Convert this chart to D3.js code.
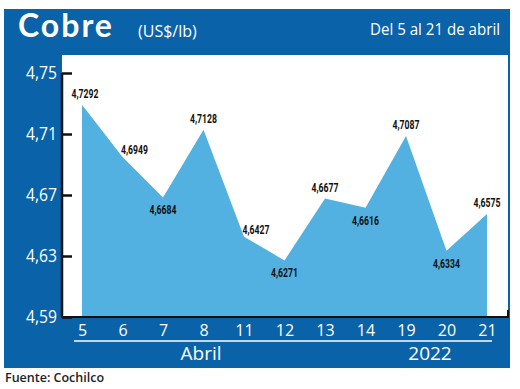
<!DOCTYPE html>
<html><head><meta charset="utf-8">
<script src="https://cdn.jsdelivr.net/npm/d3@7"></script>
<style>body{margin:0;background:#fff}svg{display:block}</style>
</head><body>
<svg id="c" width="520" height="389"></svg>
<script>
const days = ["5","6","7","8","11","12","13","14","19","20","21"];
const values = [4.7292,4.6949,4.6684,4.7128,4.6427,4.6271,4.6677,4.6616,4.7087,4.6334,4.6575];
const labelPlace = ["up","upright","down","up","upright","down","up","down","up","down","up"];
const yTicks = [4.59,4.63,4.67,4.71,4.75];
const title = "Cobre", unit = "(US$/lb)", period = "Del 5 al 21 de abril";
const month = "Abril", year = "2022", source = "Fuente: Cochilco";

const svg = d3.select("#c");
const BLUE = "#0a62a9", AREA = "#52b1e1";
const fmt = v => String(v.toFixed(4)).replace(".", ",");
const fmt2 = v => String(v.toFixed(2)).replace(".", ",");

svg.append("rect").attr("x",4).attr("y",9).attr("width",506).attr("height",359).attr("fill",BLUE);
svg.append("rect").attr("x",62).attr("y",55).attr("width",446).attr("height",262).attr("fill","#fff");

const x = d3.scalePoint().domain(days).range([82,487]);
const y = d3.scaleLinear().domain([4.59,4.75]).range([317,73]);

const area = d3.area().x((d,i)=>x(days[i])).y0(y(4.59)).y1(d=>y(d));
svg.append("path").datum(values).attr("d",area).attr("fill",AREA);

// y axis
const ya = svg.append("g").attr("transform","translate(62,0)")
  .call(d3.axisRight(y).tickValues(yTicks).tickSize(10).tickFormat(""));
ya.select(".domain").attr("stroke","#111").attr("stroke-width",2.5).attr("d","M0,"+y(4.75)+"V"+y(4.59));
ya.selectAll(".tick line").attr("stroke","#111").attr("stroke-width",2.5);
svg.append("g").selectAll("text").data(yTicks).join("text")
  .attr("x",57).attr("y",d=>y(d)+6).attr("text-anchor","end")
  .attr("fill","#fff").attr("font-family","Open Sans, sans-serif").attr("font-size",18)
  .attr("textLength",31).attr("lengthAdjust","spacingAndGlyphs")
  .text(fmt2);

// x axis baseline
svg.append("path").attr("d","M61,"+y(4.59)+"H508V"+(y(4.59)-7)).attr("stroke","#111").attr("stroke-width",2).attr("fill","none");

// x labels
const xa = svg.append("g").attr("transform","translate(0,336)")
  .call(d3.axisBottom(x).tickSize(0).tickPadding(0));
xa.select(".domain").remove();
xa.selectAll("text").attr("fill","#fff").attr("font-family","Open Sans, sans-serif").attr("font-size",16).attr("dy",0);

svg.append("line").attr("x1",74).attr("x2",492).attr("y1",341).attr("y2",341).attr("stroke","#fff").attr("stroke-width",1.5);
svg.append("text").attr("x",201).attr("y",360).attr("text-anchor","middle").attr("fill","#fff")
  .attr("font-family","Open Sans, sans-serif").attr("font-size",19).text(month);
svg.append("text").attr("x",430).attr("y",360).attr("text-anchor","middle").attr("fill","#fff")
  .attr("font-family","Open Sans, sans-serif").attr("font-size",19).text(year);

// data labels
svg.append("g").selectAll("text").data(values).join("text")
  .attr("x",(d,i)=>x(days[i]) + (labelPlace[i]==="upright"?12:(i===0?3:0)))
  .attr("y",(d,i)=>labelPlace[i]==="down"? y(d)+17 : (labelPlace[i]==="upright"? y(d)-3 : y(d)-7))
  .attr("text-anchor","middle").attr("fill","#111")
  .attr("font-family","Roboto, sans-serif").attr("font-weight","bold").attr("font-size",13.5)
  .attr("textLength",27).attr("lengthAdjust","spacingAndGlyphs")
  .text(fmt);

// header
svg.append("text").attr("x",18).attr("y",37).attr("fill","#fff")
  .attr("font-family","Lato, sans-serif").attr("font-weight","bold").attr("font-size",32).attr("letter-spacing",2).text(title);
svg.append("text").attr("x",138).attr("y",37).attr("fill","#fff")
  .attr("font-family","Open Sans, sans-serif").attr("font-size",16).text(unit);
svg.append("text").attr("x",500).attr("y",35).attr("text-anchor","end").attr("fill","#fff")
  .attr("font-family","Open Sans, sans-serif").attr("font-size",16.5)
  .attr("textLength",130).attr("lengthAdjust","spacingAndGlyphs").text(period);

svg.append("text").attr("x",5).attr("y",382).attr("fill","#222")
  .attr("font-family","Open Sans, sans-serif").attr("font-size",12.5).attr("font-weight",600).text(source);
</script>
</body></html>
